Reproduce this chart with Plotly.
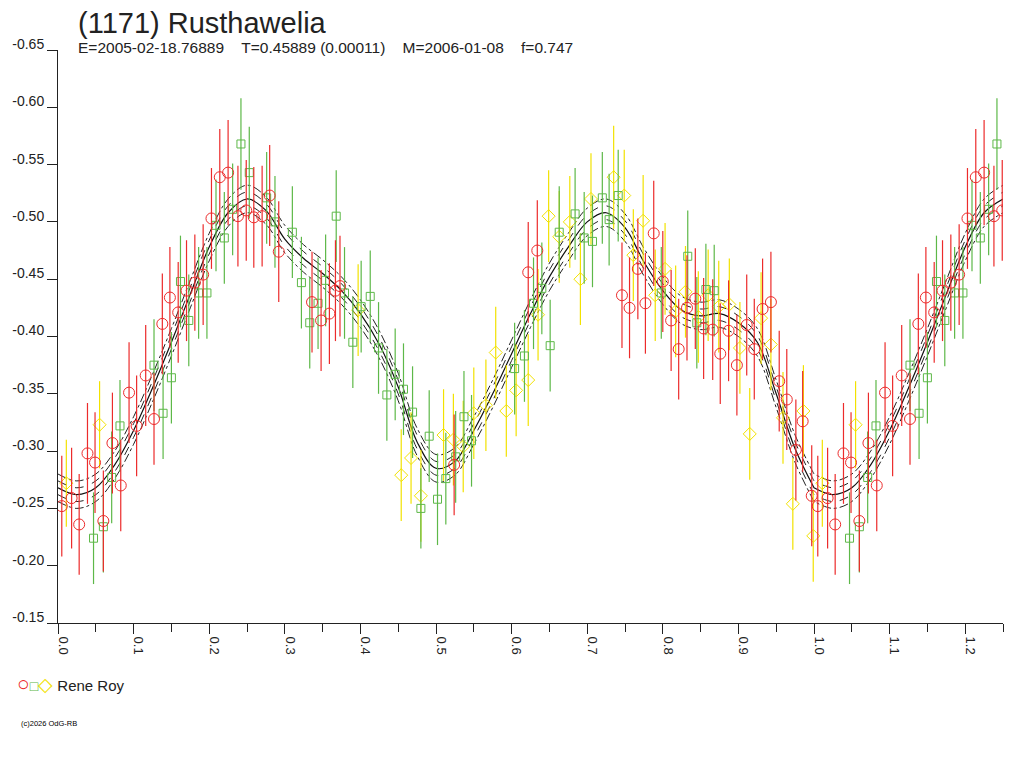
import plotly.graph_objects as go

# lightcurve of (1171) Rusthawelia, phase vs relative magnitude
red_phase = [0.005, 0.018, 0.028, 0.039, 0.049, 0.060, 0.072, 0.083, 0.094, 0.104,
             0.116, 0.127, 0.138, 0.148, 0.159, 0.170, 0.181, 0.192, 0.203, 0.214,
             0.225, 0.238, 0.249, 0.259, 0.270, 0.280, 0.292, 0.336, 0.348, 0.359,
             0.367, 0.373, 0.524, 0.622, 0.634, 0.746, 0.756, 0.767, 0.777, 0.788,
             0.800, 0.811, 0.821, 0.832, 0.843, 0.854, 0.866, 0.876, 0.887, 0.898,
             0.911, 0.921, 0.932, 0.943, 0.954, 0.964, 0.976, 0.985, 0.997]
red_mag = [-0.252, -0.259, -0.236, -0.298, -0.290, -0.239, -0.307, -0.270, -0.351, -0.322,
           -0.366, -0.328, -0.411, -0.434, -0.421, -0.440, -0.447, -0.454, -0.503, -0.539,
           -0.543, -0.505, -0.510, -0.504, -0.505, -0.523, -0.474, -0.430, -0.414, -0.420,
           -0.440, -0.444, -0.288, -0.456, -0.475, -0.436, -0.425, -0.459, -0.429, -0.490,
           -0.448, -0.414, -0.389, -0.425, -0.433, -0.407, -0.406, -0.385, -0.405, -0.375,
           -0.410, -0.389, -0.424, -0.430, -0.361, -0.345, -0.301, -0.326, -0.261]
red_err = [0.044, 0.044, 0.044, 0.044, 0.044, 0.044, 0.044, 0.040, 0.044, 0.044,
           0.044, 0.040, 0.044, 0.044, 0.044, 0.044, 0.042, 0.044, 0.044, 0.042,
           0.046, 0.044, 0.044, 0.044, 0.044, 0.044, 0.044, 0.044, 0.044, 0.044,
           0.044, 0.044, 0.044, 0.044, 0.044, 0.046, 0.044, 0.044, 0.044, 0.046,
           0.044, 0.044, 0.044, 0.046, 0.044, 0.044, 0.044, 0.044, 0.044, 0.044,
           0.044, 0.044, 0.044, 0.044, 0.044, 0.044, 0.044, 0.044, 0.044]

green_phase = [0.047, 0.060, 0.071, 0.082, 0.127, 0.139, 0.150, 0.162, 0.173, 0.186,
               0.197, 0.209, 0.220, 0.231, 0.242, 0.253, 0.276, 0.287, 0.310, 0.322,
               0.333, 0.344, 0.354, 0.368, 0.379, 0.390, 0.401, 0.413, 0.424, 0.435,
               0.446, 0.457, 0.469, 0.480, 0.491, 0.502, 0.513, 0.526, 0.537, 0.547,
               0.604, 0.617, 0.629, 0.640, 0.651, 0.663, 0.684, 0.696, 0.707, 0.720,
               0.729, 0.741, 0.798, 0.833, 0.845, 0.857, 0.868]
green_mag = [-0.224, -0.234, -0.277, -0.322, -0.375, -0.333, -0.364, -0.448, -0.414, -0.438,
             -0.438, -0.497, -0.486, -0.511, -0.568, -0.543, -0.521, -0.500, -0.491, -0.447,
             -0.412, -0.429, -0.449, -0.505, -0.438, -0.395, -0.426, -0.435, -0.390, -0.349,
             -0.367, -0.354, -0.334, -0.250, -0.313, -0.258, -0.276, -0.295, -0.330, -0.309,
             -0.372, -0.383, -0.429, -0.442, -0.392, -0.491, -0.507, -0.486, -0.483, -0.521,
             -0.502, -0.523, -0.438, -0.470, -0.412, -0.441, -0.440]
green_err = [0.040, 0.040, 0.040, 0.040, 0.040, 0.040, 0.040, 0.040, 0.040, 0.040,
             0.040, 0.040, 0.040, 0.040, 0.040, 0.040, 0.040, 0.040, 0.040, 0.040,
             0.040, 0.040, 0.040, 0.040, 0.040, 0.040, 0.040, 0.040, 0.040, 0.040,
             0.040, 0.040, 0.040, 0.035, 0.040, 0.040, 0.040, 0.040, 0.040, 0.040,
             0.040, 0.040, 0.040, 0.040, 0.040, 0.040, 0.040, 0.040, 0.040, 0.040,
             0.040, 0.040, 0.040, 0.040, 0.040, 0.040, 0.040]

yellow_phase = [0.011, 0.055, 0.397, 0.454, 0.467, 0.480, 0.510, 0.523, 0.536, 0.550,
                0.566, 0.579, 0.593, 0.606, 0.622, 0.635, 0.649, 0.663, 0.677, 0.691,
                0.705, 0.735, 0.749, 0.761, 0.774, 0.790, 0.803, 0.817, 0.830, 0.847,
                0.860, 0.874, 0.888, 0.902, 0.915, 0.930, 0.943, 0.959, 0.972, 0.986,
                0.999]
yellow_mag = [-0.272, -0.323, -0.423, -0.279, -0.294, -0.261, -0.314, -0.310, -0.304, -0.333,
              -0.340, -0.386, -0.335, -0.353, -0.362, -0.419, -0.505, -0.487, -0.500, -0.450,
              -0.520, -0.539, -0.523, -0.471, -0.501, -0.436, -0.459, -0.422, -0.439, -0.417,
              -0.436, -0.426, -0.428, -0.390, -0.315, -0.416, -0.393, -0.329, -0.254, -0.335,
              -0.226]
yellow_err = [0.038, 0.038, 0.040, 0.040, 0.040, 0.040, 0.040, 0.040, 0.040, 0.040,
              0.040, 0.040, 0.040, 0.040, 0.040, 0.040, 0.040, 0.040, 0.040, 0.040,
              0.040, 0.045, 0.040, 0.040, 0.040, 0.040, 0.040, 0.040, 0.040, 0.040,
              0.040, 0.040, 0.040, 0.040, 0.040, 0.040, 0.040, 0.040, 0.040, 0.040,
              0.040]

# fitted curve, one period, read every 0.025 in phase
fit_phase = [0.000, 0.025, 0.050, 0.075, 0.100, 0.125, 0.150, 0.175, 0.200, 0.225,
             0.250, 0.275, 0.300, 0.325, 0.350, 0.375, 0.400, 0.425, 0.450, 0.475,
             0.500, 0.525, 0.550, 0.575, 0.600, 0.625, 0.650, 0.675, 0.700, 0.725,
             0.750, 0.775, 0.800, 0.825, 0.850, 0.875, 0.900, 0.925, 0.950, 0.975]
fit_mag = [-0.268, -0.262, -0.268, -0.288, -0.318, -0.355, -0.395, -0.437, -0.478, -0.508,
           -0.520, -0.510, -0.485, -0.468, -0.455, -0.440, -0.420, -0.393, -0.356, -0.308,
           -0.285, -0.291, -0.318, -0.350, -0.385, -0.420, -0.452, -0.478, -0.500, -0.508,
           -0.495, -0.465, -0.440, -0.423, -0.418, -0.420, -0.412, -0.395, -0.350, -0.302]
band_inner = 0.006
band_outer = 0.012

y_ticks = [-0.65, -0.60, -0.55, -0.50, -0.45, -0.40, -0.35, -0.30, -0.25, -0.20, -0.15]
x_ticks = [0.0, 0.1, 0.2, 0.3, 0.4, 0.5, 0.6, 0.7, 0.8, 0.9, 1.0, 1.1, 1.2]

RED = "#ec2b2b"
GREEN = "#5db848"
YELLOW = "#f2e200"


def wrap(ph, mg, er=None):
    # the plot shows phase 0..1.25, so points below 0.25 are repeated after 1.0
    xs, ys, es = list(ph), list(mg), list(er) if er else None
    for i, p in enumerate(ph):
        if p + 1 <= 1.25:
            xs.append(p + 1)
            ys.append(mg[i])
            if er:
                es.append(er[i])
    return xs, ys, es


fig = go.Figure()

fx, fy, _ = wrap(fit_phase + [1.0], fit_mag + [fit_mag[0]])
order = sorted(range(len(fx)), key=lambda i: fx[i])
fx = [fx[i] for i in order]
fy = [fy[i] for i in order]

for off, dash in [(band_outer, "dashdot"), (band_inner, "dash"),
                  (-band_inner, "dash"), (-band_outer, "dashdot")]:
    fig.add_trace(go.Scatter(x=fx, y=[v + off for v in fy], mode="lines",
                             line=dict(color="#222222", width=1, dash=dash, shape="spline"),
                             showlegend=False, hoverinfo="skip"))
fig.add_trace(go.Scatter(x=fx, y=fy, mode="lines",
                         line=dict(color="#111111", width=1.2, shape="spline"),
                         showlegend=False, hoverinfo="skip"))

for ph, mg, er, col, sym, size in [
    (yellow_phase, yellow_mag, yellow_err, YELLOW, "diamond-open", 10),
    (green_phase, green_mag, green_err, GREEN, "square-open", 8),
    (red_phase, red_mag, red_err, RED, "circle-open", 11),
]:
    x, y, e = wrap(ph, mg, er)
    fig.add_trace(go.Scatter(
        x=x, y=y, mode="markers",
        marker=dict(symbol=sym, size=size, color=col, line=dict(width=1, color=col)),
        error_y=dict(type="data", array=e, visible=True, color=col, thickness=1.2, width=0),
        showlegend=False))

font = "Liberation Sans, Arial, sans-serif"

# the page body adds an 8 px offset, margins compensate for it
fig.update_layout(
    width=1024, height=768,
    margin=dict(l=50, r=29, t=42, b=153),
    paper_bgcolor="white", plot_bgcolor="white",
    font=dict(family=font, color="#222222", size=14),
    showlegend=False,
    xaxis=dict(range=[0, 1.25], tickvals=x_ticks,
               ticktext=["%.1f" % v for v in x_ticks],
               ticks="outside", ticklen=10, tickcolor="#222222",
               minor=dict(dtick=0.05, ticks="outside", ticklen=8, tickcolor="#222222"),
               tickangle=90, ticklabelshift=5, tickfont=dict(size=13),
               showline=True, linecolor="#222222", linewidth=1,
               showgrid=False, zeroline=False, automargin=False),
    yaxis=dict(range=[-0.15, -0.65], tickvals=y_ticks,
               ticktext=["-%.2f" % abs(v) for v in y_ticks],
               ticks="outside", ticklen=10, tickcolor="#222222",
               ticklabelshift=6, ticklabelstandoff=0, tickfont=dict(size=14),
               showline=True, linecolor="#222222", linewidth=1,
               showgrid=False, zeroline=False, automargin=False),
    annotations=[
        dict(text="(1171) Rusthawelia", xref="paper", yref="paper",
             x=0.019, y=1.047, xanchor="left", yanchor="middle", showarrow=False,
             font=dict(size=29, family=font, color="#222222")),
        dict(text="E=2005-02-18.76889&nbsp;&nbsp;&nbsp;&nbsp;T=0.45889 (0.00011)"
                  "&nbsp;&nbsp;&nbsp;&nbsp;M=2006-01-08&nbsp;&nbsp;&nbsp;&nbsp;f=0.747",
             xref="paper", yref="paper", x=0.019, y=1.004,
             xanchor="left", yanchor="middle", showarrow=False,
             font=dict(size=15.5, family=font, color="#222222")),
        dict(text="<span style='color:%s;font-size:21px'>○</span>"
                  "<span style='color:%s;font-size:14px'>□</span>"
                  "<span style='color:%s;font-size:19px'>◇</span> Rene Roy" % (RED, GREEN, YELLOW),
             xref="paper", yref="paper", x=-0.045, y=-0.105,
             xanchor="left", yanchor="middle", showarrow=False,
             font=dict(size=15, family=font, color="#222222")),
        dict(text="(c)2026 OdG-RB", xref="paper", yref="paper", x=-0.041, y=-0.176,
             xanchor="left", yanchor="middle", showarrow=False,
             font=dict(size=7.5, family=font, color="#000000")),
    ],
)

fig.write_html("out.html")
